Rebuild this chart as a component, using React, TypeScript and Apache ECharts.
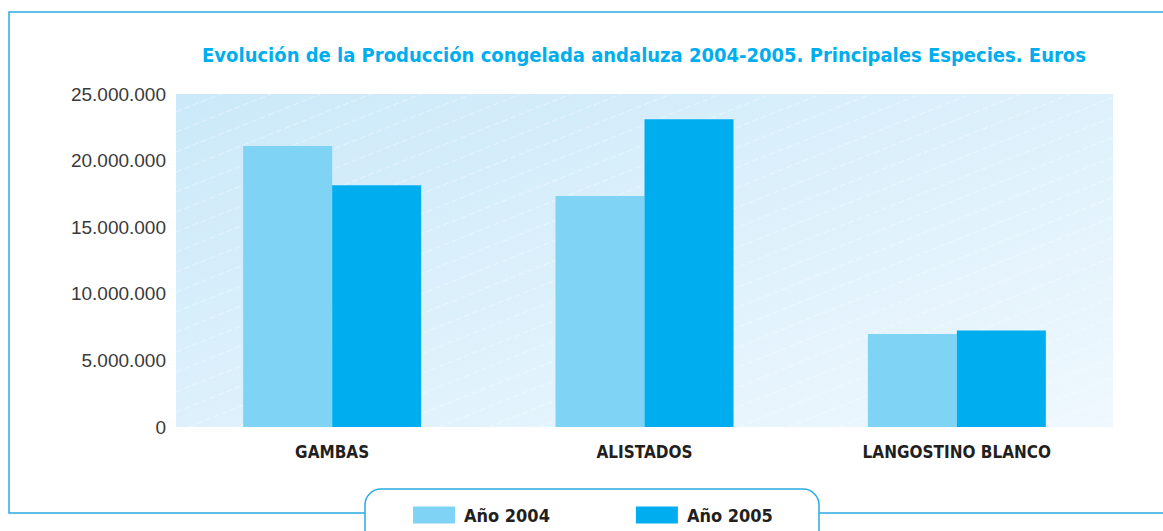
import React, { useEffect, useRef } from "react";
import * as echarts from "echarts";

const categories = ["GAMBAS", "ALISTADOS", "LANGOSTINO BLANCO"];
const seriesNames = ["Año 2004", "Año 2005"];
const values2004 = [21100000, 17350000, 6980000];
const values2005 = [18150000, 23100000, 7250000];
const yTicks = [0, 5000000, 10000000, 15000000, 20000000, 25000000];
const titleText =
  "Evolución de la Producción congelada andaluza 2004-2005. Principales Especies. Euros";

const fmt = (v: number) => String(v).replace(/\B(?=(\d{3})+(?!\d))/g, ".");

const FRAME = "#2aaae2";
const CONDENSED = "'Liberation Sans Narrow', 'DejaVu Sans Condensed', 'Liberation Sans', Arial, sans-serif";

// plot area box (decoration geometry)
const PL = 176, PR = 1113, PT = 94, PB = 427;

function hatchLines() {
  const out: any[] = [];
  const slope = 0.4;
  const step = 20;
  for (let c = PT - 4 * step + 18; c <= PB + slope * (PR - PL) + step; c += step) {
    let x1 = Math.max(PL, PL + (c - PB) / slope);
    let x2 = Math.min(PR, PL + (c - PT) / slope);
    if (x2 <= x1) continue;
    const y1 = c - slope * (x1 - PL);
    const y2 = c - slope * (x2 - PL);
    out.push({
      type: "line",
      silent: true,
      z: 1,
      shape: { x1, y1, x2, y2 },
      style: { stroke: "rgba(255,255,255,0.45)", lineWidth: 1, lineDash: [6, 3] },
    });
  }
  return out;
}

export default function App() {
  const ref = useRef<HTMLDivElement>(null);
  useEffect(() => {
    if (!ref.current) return;
    const chart = echarts.init(ref.current, undefined, { renderer: "svg" });
    chart.setOption({
      animation: false,
      backgroundColor: "#ffffff",
      grid: {
        left: PL,
        right: 1163 - PR,
        top: PT,
        bottom: 531 - PB,
        show: true,
        borderWidth: 0,
        backgroundColor: new echarts.graphic.LinearGradient(0, 0, 1, 1, [
          { offset: 0, color: "#cbe9f9" },
          { offset: 1, color: "#eff8fe" },
        ]),
      },
      xAxis: {
        type: "category",
        data: categories,
        axisLine: { show: false },
        axisTick: { show: false },
        axisLabel: {
          margin: 16,
          fontSize: 17,
          fontWeight: "bold",
          color: "#231f20",
          fontFamily: CONDENSED,
        },
      },
      yAxis: {
        type: "value",
        min: yTicks[0],
        max: yTicks[yTicks.length - 1],
        interval: yTicks[1] - yTicks[0],
        splitLine: { show: false },
        axisLine: { show: false },
        axisTick: { show: false },
        axisLabel: {
          margin: 10,
          fontSize: 19,
          color: "#3a3a3a",
          fontFamily: "'Liberation Sans', Arial, sans-serif",
          formatter: (v: number) => fmt(v),
        },
      },
      legend: {
        data: seriesNames,
        left: 413,
        top: 506,
        icon: "rect",
        itemWidth: 42,
        itemHeight: 17,
        itemGap: 86,
        textStyle: {
          fontSize: 18,
          fontWeight: "bold",
          color: "#231f20",
          fontFamily: CONDENSED,
          padding: [0, 0, 0, 4],
        },
        padding: 0,
      },
      series: [
        {
          name: seriesNames[0],
          type: "bar",
          data: values2004,
          barWidth: 89,
          barGap: "0%",
          z: 3,
          itemStyle: { color: "#7fd3f5" },
        },
        {
          name: seriesNames[1],
          type: "bar",
          data: values2005,
          barWidth: 89,
          barGap: "0%",
          z: 3,
          itemStyle: { color: "#00aeef" },
        },
      ],
      graphic: [
        ...hatchLines(),
        {
          type: "polyline",
          silent: true,
          shape: {
            points: [
              [1170, 12],
              [9, 12],
              [9, 513],
              [365, 513],
            ],
          },
          style: { stroke: FRAME, lineWidth: 1.5, fill: null },
        },
        {
          type: "line",
          silent: true,
          shape: { x1: 819, y1: 513, x2: 1170, y2: 513 },
          style: { stroke: FRAME, lineWidth: 1.5 },
        },
        {
          type: "rect",
          silent: true,
          shape: { x: 365, y: 489, width: 454, height: 60, r: 16 },
          style: { stroke: FRAME, lineWidth: 1.5, fill: "#ffffff" },
          z: 0,
        },
        {
          type: "text",
          silent: true,
          x: 644,
          y: 55,
          style: {
            text: titleText,
            textAlign: "center",
            textVerticalAlign: "middle",
            fill: "#00aeef",
            fontSize: 20,
            fontWeight: "bold",
            fontFamily: CONDENSED,
          },
        },
      ],
    });
    return () => chart.dispose();
  }, []);
  return (
    <div
      ref={ref}
      style={{ position: "absolute", left: 0, top: 0, width: 1163, height: 531 }}
    />
  );
}
